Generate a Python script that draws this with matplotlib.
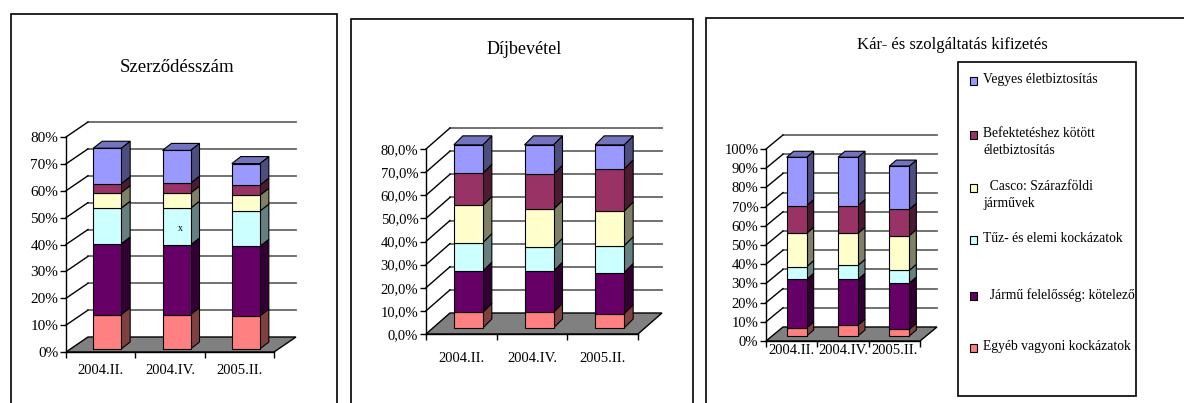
import matplotlib
import numpy as np

matplotlib.use("Agg")
import matplotlib.pyplot as plt
from matplotlib.patches import Polygon, Rectangle

plt.rcParams["font.family"] = ["Liberation Serif", "DejaVu Serif"]

W, H = 1184, 403

categories = ["2004.II.", "2004.IV.", "2005.II."]

# series in stacking order, bottom to top
series_names = [
    "Egyéb vagyoni kockázatok",
    "  Jármű felelősség: kötelező",
    "Tűz- és elemi kockázatok",
    "  Casco: Szárazföldi\njárművek",
    "Befektetéshez kötött\néletbiztosítás",
    "Vegyes életbiztosítás",
]
front_colors = ["#FF8080", "#660066", "#CCFFFF", "#FFFFCC", "#993366", "#9999FF"]

# percentage shares, one row per series, one column per category
szerzodesszam = [
    [12.8, 12.8, 12.3],
    [26.3, 25.9, 25.9],
    [13.3, 13.7, 13.1],
    [5.8, 5.6, 5.9],
    [3.3, 3.7, 3.8],
    [13.2, 12.2, 8.0],
]
dijbevetel = [
    [6.8, 6.8, 6.2],
    [17.8, 17.8, 17.8],
    [12.3, 10.3, 11.6],
    [16.1, 16.4, 15.0],
    [13.9, 15.2, 18.2],
    [12.3, 12.7, 10.4],
]
kar_kifizetes = [
    [4.3, 5.7, 3.6],
    [25.2, 23.8, 24.0],
    [6.6, 7.3, 6.6],
    [17.4, 16.7, 18.1],
    [14.4, 14.4, 13.7],
    [25.2, 25.2, 22.5],
]


def shade(color, k):
    rgb = np.array(matplotlib.colors.to_rgb(color))
    return tuple(rgb * k)


def px_axes(fig, x0, x1, yt, yb):
    return fig.add_axes([x0 / W, 1 - yb / H, (x1 - x0) / W, (yb - yt) / H])


def draw_panel(fig, values, title, title_xy, title_size, front, ymax, ystep,
               fmt, tick_size, wall, shift, depth, bar_px, label_pad):
    x0, x1, yt, yb = front
    ax = px_axes(fig, x0, x1, yt, yb)
    ax.set_xlim(-0.5, 2.5)
    ax.set_ylim(0, ymax)
    ax.patch.set_visible(False)
    for side in ("top", "right", "bottom"):
        ax.spines[side].set_visible(False)
    ax.spines["left"].set_linewidth(1.0)

    sx = 3 / (x1 - x0)
    sy = ymax / (yb - yt)
    wdx, wdy = wall[0] * sx, wall[1] * sy
    bsx, bsy = shift[0] * sx, shift[1] * sy
    bdx, bdy = depth[0] * sx, depth[1] * sy
    bw = bar_px * sx

    ticks = np.arange(0, ymax + ystep / 2, ystep)
    # back wall gridlines and left wall diagonals
    for t in ticks[1:]:
        ax.plot([-0.5 + wdx, 2.5 + wdx], [t + wdy, t + wdy],
                color="#666666", lw=1.3, clip_on=False, zorder=0.5)
        ax.plot([-0.5, -0.5 + wdx], [t, t + wdy],
                color="black", lw=1.0, clip_on=False, zorder=0.6)
    floor = Polygon([(-0.5, 0), (2.5, 0), (2.5 + wdx, wdy), (-0.5 + wdx, wdy)],
                    closed=True, facecolor="#808080", edgecolor="black",
                    lw=1.0, clip_on=False, zorder=1)
    ax.add_patch(floor)

    xs = np.arange(len(categories)) + bsx
    bottoms = np.zeros(len(categories))
    n = len(values)
    for k, (vals, color) in enumerate(zip(values, front_colors)):
        vals = np.asarray(vals)
        ax.bar(xs, vals, width=bw, bottom=bottoms + bsy, color=color,
               edgecolor="black", lw=0.8, zorder=3, clip_on=False)
        for x, b, v in zip(xs, bottoms, vals):
            r = x + bw / 2
            y0, y1 = b + bsy, b + v + bsy
            ax.add_patch(Polygon([(r, y0), (r + bdx, y0 + bdy),
                                  (r + bdx, y1 + bdy), (r, y1)],
                                 closed=True, facecolor=shade(color, 0.5),
                                 edgecolor="black", lw=0.8, zorder=2.5,
                                 clip_on=False))
            if k == n - 1:
                l = x - bw / 2
                ax.add_patch(Polygon([(l, y1), (r, y1), (r + bdx, y1 + bdy),
                                      (l + bdx, y1 + bdy)],
                                     closed=True, facecolor=shade(color, 0.75),
                                     edgecolor="black", lw=0.8, zorder=2.5,
                                     clip_on=False))
        bottoms = bottoms + vals

    ax.set_yticks(ticks)
    ax.set_yticklabels([fmt(t) for t in ticks])
    ax.tick_params(axis="y", direction="out", length=4, width=1, pad=1.5,
                   labelsize=tick_size)
    ax.set_xticks([-0.5, 0.5, 1.5, 2.5])
    ax.set_xticklabels([])
    ax.tick_params(axis="x", which="major", direction="out", length=4, width=1)
    ax.plot([-0.5, 2.5], [0, 0], color="black", lw=1.0, clip_on=False, zorder=1.2)
    ax.set_xticks(range(len(categories)), minor=True)
    ax.set_xticklabels(categories, minor=True)
    ax.tick_params(axis="x", which="minor", length=0, pad=label_pad,
                   labelsize=10.5)

    fig.text(title_xy[0] / W, 1 - title_xy[1] / H, title, ha="center",
             va="center", fontsize=title_size)
    return ax, bsx, bsy


fig = plt.figure(figsize=(W / 100, H / 100), dpi=100)

# panel frames, open at the bottom edge of the image
for left, top, right in [(11, 14, 337), (351, 19, 693), (706, 18, 1250)]:
    fig.patches.append(Rectangle((left / W, -0.2), (right - left) / W,
                                 1 - top / H + 0.2, transform=fig.transFigure,
                                 facecolor="none", edgecolor="black", lw=1.2))

ax1, bsx1, bsy1 = draw_panel(
    fig, szerzodesszam, "Szerződésszám", (177, 67), 13.5,
    (66, 274, 137, 352), 80, 10, lambda t: f"{t:.0f}%", 11,
    (22, 15), (6.5, 3), (9, 7), 28, 9)
# stray mark inside the middle bar
ax1.text(1 + bsx1 + 0.05, 46, "x", fontsize=7, ha="center", va="center", zorder=5)

draw_panel(
    fig, dijbevetel, "Díjbevétel", (524, 50), 13,
    (426, 638, 149, 334), 80, 10, lambda t: f"{t:.1f}%".replace(".", ","), 10.5,
    (24, 21), (7, 6), (9, 9), 29, 13)

draw_panel(
    fig, kar_kifizetes, "Kár- és szolgáltatás kifizetés", (952, 45), 12,
    (766, 920, 149, 341), 100, 10, lambda t: f"{t:.0f}%", 10.5,
    (17, 14), (5, 5), (7, 6), 20, 2.5)

# legend box, entries listed from the top series down
lx0, ly0, lx1, ly1 = 958, 62, 1136, 396
fig.patches.append(Rectangle((lx0 / W, 1 - ly1 / H), (lx1 - lx0) / W,
                             (ly1 - ly0) / H, transform=fig.transFigure,
                             facecolor="white", edgecolor="black", lw=1.2))
entry_y = [81, 135, 188, 240, 296, 348]
for y, name, color in zip(entry_y, series_names[::-1], front_colors[::-1]):
    fig.patches.append(Rectangle((970 / W, 1 - (y + 4) / H), 7 / W, 8 / H,
                                 transform=fig.transFigure, facecolor=color,
                                 edgecolor="black", lw=0.8))
    fig.text(983 / W, 1 - (y - 8) / H, name, ha="left", va="top",
             fontsize=9.8, linespacing=1.45)

fig.savefig("out.png", dpi=100)
